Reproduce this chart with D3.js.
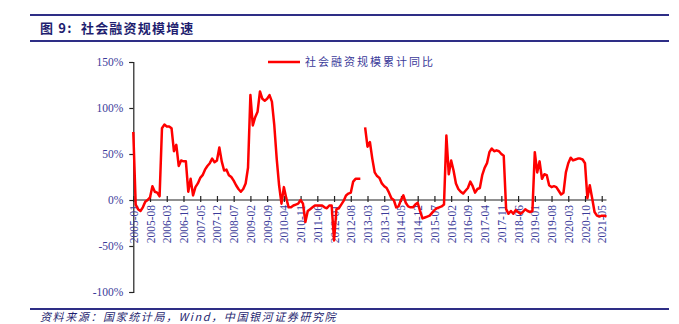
<!DOCTYPE html>
<html>
<head>
<meta charset="utf-8">
<script src="https://cdn.jsdelivr.net/npm/d3@7/dist/d3.min.js"></script>
<style>
  html, body { margin: 0; padding: 0; background: #fff; }
  svg { display: block; }
</style>
</head>
<body>
<svg id="chart" width="679" height="324"></svg>
<script>
// Chart title, legend and source note
const chartTitle = "图 9:  社会融资规模增速";
const seriesName = "社会融资规模累计同比";
const sourceNote = "资料来源：国家统计局，Wind，中国银河证券研究院";

// Monthly series starting 2005-01 (cumulative YoY growth, %), null = no value
const startYear = 2005;
const yoyGrowth = [
  74, -5, -10, -12, -8, -2, 0, 3, 15, 9, 8, 4,            // 2005
  78, 82, 80, 80, 78, 53, 60, 37, 43, 42, 42, 9,          // 2006
  23, 5, 14, 18, 24, 27, 33, 37, 40, 45, 41, 43,          // 2007
  57, 42, 32, 33, 27, 25, 21, 16, 12, 9, 12, 18,          // 2008
  35, 114, 81, 90, 96, 118, 110, 108, 110, 114, 107, 81,  // 2009
  45, 16, -4, 14, 2, -8, -8, -6, -5, -4, 0, -4,           // 2010
  -24, -12, -10, -8, -6, -6, -6, -6, -8, -9, -6, -6,      // 2011
  -44, -10, -9, -5, -1, 5, 7, 8, 20, 23, 23, 23,          // 2012
  null, 79, 58, 63, 45, 30, 26, 24, 18, 15, 13, 8,        // 2013
  2, 0, -8, -7, 0, 5, -3, -7, -8, -8, -5, -3,             // 2014
  -12, -20, -19, -18, -17, -14, -11, -9, -8, -7, -5, 70,  // 2015
  28, 43, 32, 18, 12, 9, 7, 10, 13, 20, 15, 8,            // 2016
  12, 13, 27, 35, 40, 52, 56, 53, 54, 53, 50, 48,         // 2017
  -10, -15, -12, -15, -11, -13, -15, -13, -10, -12, -13, -12, // 2018
  52, 30, 42, 23, 28, 27, 16, 14, 15, 14, 10, 6,          // 2019
  8, 30, 40, 46, 43, 44, 45, 45, 44, 40, 2, 16,           // 2020
  2, -13, -17, -18, -17, -17, -18                         // 2021
];

// Category labels for each month
const months = yoyGrowth.map((_, i) => {
  const y = startYear + Math.floor(i / 12);
  const m = (i % 12) + 1;
  return y + "-" + String(m).padStart(2, "0");
});

// Axis labels
const xTickLabels = [
  "2005-01", "2005-08", "2006-03", "2006-10", "2007-05", "2007-12", "2008-07",
  "2009-02", "2009-09", "2010-04", "2010-11", "2011-06", "2012-01", "2012-08",
  "2013-03", "2013-10", "2014-05", "2014-12", "2015-07", "2016-02", "2016-09",
  "2017-04", "2017-11", "2018-06", "2019-01", "2019-08", "2020-03", "2020-10",
  "2021-05"
];
const yTicks = [150, 100, 50, 0, -50, -100];

const navy = "#2e2e86";
const labelColor = "#3b3b9a";
const svg = d3.select("#chart");

// Header band
svg.append("line").attr("x1", 30).attr("x2", 669).attr("y1", 15).attr("y2", 15)
  .attr("stroke", navy).attr("stroke-width", 2);
svg.append("line").attr("x1", 30).attr("x2", 669).attr("y1", 41).attr("y2", 41)
  .attr("stroke", navy).attr("stroke-width", 2);
svg.append("text").attr("x", 40).attr("y", 33)
  .attr("font-family", "'Noto Sans CJK SC', sans-serif")
  .attr("font-size", 13).attr("font-weight", "bold").attr("fill", "#1f1f70")
  .attr("letter-spacing", 1.2)
  .style("white-space", "pre")
  .text(chartTitle);

// Footer
svg.append("line").attr("x1", 30).attr("x2", 669).attr("y1", 309).attr("y2", 309)
  .attr("stroke", navy).attr("stroke-width", 2);
svg.append("text").attr("x", 40).attr("y", 321)
  .attr("font-family", "'Noto Sans CJK SC', sans-serif")
  .attr("font-size", 11).attr("font-style", "italic").attr("fill", "#1f1f70")
  .attr("letter-spacing", 1.6)
  .text(sourceNote);

// Scales
const x = d3.scaleLinear().domain([0, 198]).range([133.3, 606.5]);
const y = d3.scaleLinear().domain([-100, 150]).range([292, 62]);

// Y axis
const yAxis = d3.axisLeft(y).tickValues(yTicks).tickSize(4).tickFormat(d => d + "%");
const gy = svg.append("g").attr("transform", `translate(${x(0)},0)`).call(yAxis);
gy.select(".domain").attr("stroke", "#222").attr("stroke-width", 1.2);
gy.selectAll(".tick line").attr("stroke", "#222").attr("stroke-width", 1.2);
gy.selectAll(".tick text")
  .attr("x", -10)
  .attr("font-family", "'Liberation Serif', serif").attr("font-size", 11.5)
  .attr("fill", labelColor);

// X axis on the zero line
const xTickIdx = xTickLabels.map(l => months.indexOf(l));
const xAxis = d3.axisBottom(x).tickValues(xTickIdx).tickSizeInner(-4).tickSizeOuter(0)
  .tickFormat(d => months[d]);
const gx = svg.append("g").attr("transform", `translate(0,${y(0)})`).call(xAxis);
gx.select(".domain").attr("stroke", "#222").attr("stroke-width", 1.2)
  .attr("d", `M${x(0)},0H${x(198)}`);
gx.selectAll(".tick line").attr("stroke", "#222").attr("stroke-width", 1.2)
  .attr("y1", 2).attr("y2", -4);
gx.selectAll(".tick text")
  .attr("transform", "rotate(-90)")
  .attr("x", -5).attr("y", 0).attr("dy", "0.35em")
  .attr("text-anchor", "end")
  .attr("font-family", "'Liberation Serif', serif").attr("font-size", 11.5)
  .attr("fill", labelColor);

// Series line
const line = d3.line()
  .defined(d => d != null)
  .x((d, i) => x(i))
  .y(d => y(d));
svg.append("path")
  .datum(yoyGrowth)
  .attr("d", line)
  .attr("fill", "none")
  .attr("stroke", "#ff0000")
  .attr("stroke-width", 2.5)
  .attr("stroke-linejoin", "round");

// Legend
svg.append("line").attr("x1", 268).attr("x2", 300).attr("y1", 62).attr("y2", 62)
  .attr("stroke", "#ff0000").attr("stroke-width", 2.5);
svg.append("text").attr("x", 305).attr("y", 66)
  .attr("font-family", "'Noto Sans CJK SC', sans-serif")
  .attr("font-size", 11).attr("letter-spacing", 2).attr("fill", labelColor)
  .text(seriesName);
</script>
</body>
</html>
